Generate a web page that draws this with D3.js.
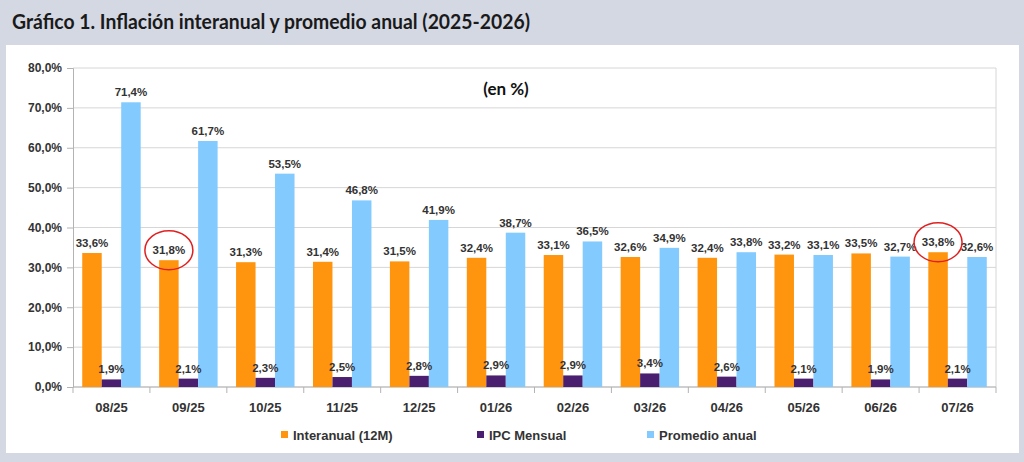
<!DOCTYPE html>
<html><head><meta charset="utf-8">
<script src="https://cdn.jsdelivr.net/npm/d3@7"></script>
<style>
html,body{margin:0;padding:0;background:#d4d8e3;}
svg{display:block;}
</style></head>
<body>
<svg id="c" width="1024" height="462"></svg>
<script>
const categories = ["08/25","09/25","10/25","11/25","12/25","01/26","02/26","03/26","04/26","05/26","06/26","07/26"];
const interanual = [33.6,31.8,31.3,31.4,31.5,32.4,33.1,32.6,32.4,33.2,33.5,33.8];
const mensual = [1.9,2.1,2.3,2.5,2.8,2.9,2.9,3.4,2.6,2.1,1.9,2.1];
const promedio = [71.4,61.7,53.5,46.8,41.9,38.7,36.5,34.9,33.8,33.1,32.7,32.6];
const seriesNames = ["Interanual (12M)","IPC Mensual","Promedio anual"];
const seriesColors = ["#ff950e","#4b1f6f","#83caff"];
const yTicks = [0,10,20,30,40,50,60,70,80];
const highlighted = ["09/25","07/26"];

const svg = d3.select("#c");
const W=1024,H=462;
svg.append("rect").attr("width",W).attr("height",H).attr("fill","#d4d8e3");
svg.append("rect").attr("x",6).attr("y",45).attr("width",1013).attr("height",408).attr("fill","#ffffff");
svg.append("text").attr("x",12).attr("y",29).attr("font-family","Lato, 'Open Sans', sans-serif")
  .attr("font-weight","bold").attr("font-size",20).attr("fill","#1a1a1a")
  .attr("textLength",518).attr("lengthAdjust","spacingAndGlyphs")
  .text("Gráfico 1. Inflación interanual y promedio anual (2025-2026)");

const m={l:73,r:996,t:68,b:387};
const x=d3.scaleBand().domain(categories).range([m.l,m.r]).paddingInner(0.24).paddingOuter(0.12);
const xs=d3.scaleBand().domain([0,1,2]).range([0,x.bandwidth()]);
const y=d3.scaleLinear().domain([0,80]).range([m.b,m.t]);
const fmt=v=>d3.format(".1f")(v).replace(".",",")+"%";

// grid
svg.append("g").selectAll("line").data(yTicks).join("line")
  .attr("x1",m.l).attr("x2",m.r).attr("y1",d=>y(d)).attr("y2",d=>y(d))
  .attr("stroke","#d6d6d6").attr("stroke-width",1);
svg.append("line").attr("x1",m.r).attr("x2",m.r).attr("y1",m.t).attr("y2",m.b).attr("stroke","#d6d6d6");

// y axis
const ya=svg.append("g").attr("transform",`translate(${m.l},0)`)
  .call(d3.axisLeft(y).tickValues(yTicks).tickSize(6).tickFormat(fmt).tickPadding(5));
ya.select(".domain").attr("stroke","#b3b3b3");
ya.selectAll(".tick line").attr("stroke","#b3b3b3");
ya.selectAll("text").attr("font-family","'Liberation Sans', Arial, sans-serif").attr("font-weight","bold").attr("font-size",12).attr("fill","#333");

// x axis
const bounds=d3.range(categories.length+1).map(i=>m.l+i*(m.r-m.l)/categories.length);
svg.append("line").attr("x1",m.l).attr("x2",m.r).attr("y1",m.b).attr("y2",m.b).attr("stroke","#b3b3b3");
svg.append("g").selectAll("line").data(bounds).join("line")
  .attr("x1",d=>d).attr("x2",d=>d).attr("y1",m.b).attr("y2",m.b+6).attr("stroke","#b3b3b3");
svg.append("g").selectAll("text").data(categories).join("text")
  .attr("x",d=>x(d)+x.bandwidth()/2).attr("y",m.b+25).attr("text-anchor","middle")
  .attr("font-family","'Liberation Sans', Arial, sans-serif").attr("font-weight","bold").attr("font-size",13).attr("fill","#333")
  .text(d=>d);

const allSeries=[interanual,mensual,promedio];
allSeries.forEach((vals,si)=>{
  const g=svg.append("g");
  g.selectAll("rect").data(vals).join("rect")
    .attr("x",(d,i)=>x(categories[i])+xs(si)).attr("width",xs.bandwidth())
    .attr("y",d=>y(d)).attr("height",d=>y(0)-y(d)).attr("fill",seriesColors[si]);
});
allSeries.forEach((vals,si)=>{
  svg.append("g").selectAll("text").data(vals).join("text")
    .attr("x",(d,i)=>x(categories[i])+xs(si)+xs.bandwidth()/2).attr("y",d=>y(d)-6)
    .attr("text-anchor","middle").attr("font-family","'Liberation Sans', Arial, sans-serif")
    .attr("font-weight","bold").attr("font-size",11.5).attr("fill","#333").text(d=>fmt(d));
});

// highlight circles
highlighted.forEach(c=>{
  const i=categories.indexOf(c);
  svg.append("ellipse").attr("cx",x(c)+xs(0)+xs.bandwidth()/2).attr("cy",y(interanual[i])-10)
    .attr("rx",24).attr("ry",19.5).attr("fill","none").attr("stroke","#e02020").attr("stroke-width",1.5);
});

svg.append("text").attr("x",506).attr("y",95).attr("text-anchor","middle")
  .attr("font-family","Lato, 'Open Sans', sans-serif").attr("font-weight","bold").attr("font-size",17).attr("fill","#111").text("(en %)");

// legend
const legX=[281,477,647];
const lg=svg.append("g");
seriesNames.forEach((n,i)=>{
  lg.append("rect").attr("x",legX[i]).attr("y",431).attr("width",7).attr("height",7).attr("fill",seriesColors[i]);
  lg.append("text").attr("x",legX[i]+12).attr("y",439.5).attr("font-family","'Liberation Sans', Arial, sans-serif")
    .attr("font-weight","bold").attr("font-size",13).attr("fill","#333").text(n);
});
</script>
</body></html>
